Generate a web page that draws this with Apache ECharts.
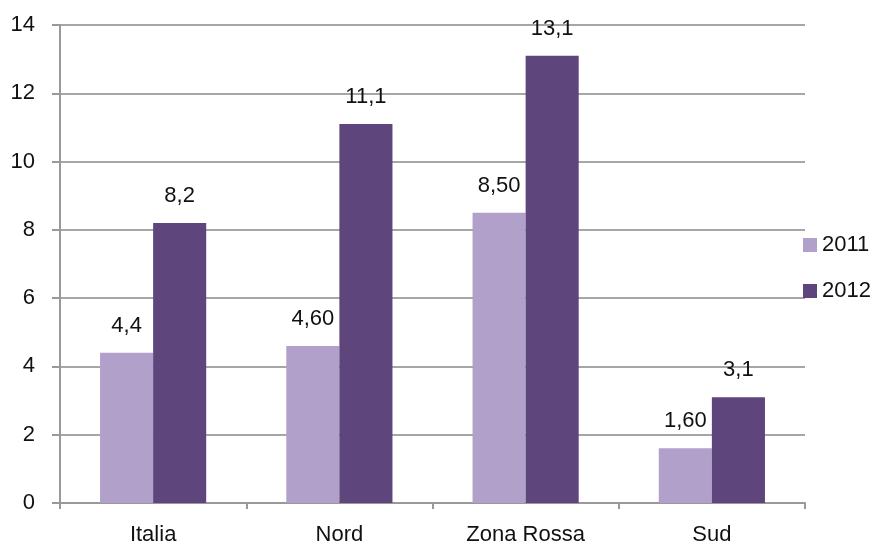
<!DOCTYPE html>
<html>
<head>
<meta charset="utf-8">
<script src="https://cdn.jsdelivr.net/npm/echarts@6/dist/echarts.min.js"></script>
<style>
  html, body { margin: 0; padding: 0; background: #fff; }
  #chart { width: 878px; height: 547px; }
</style>
</head>
<body>
<div id="chart"></div>
<script>
const categories = ['Italia', 'Nord', 'Zona Rossa', 'Sud'];
const values2011 = [4.4, 4.6, 8.5, 1.6];
const values2012 = [8.2, 11.1, 13.1, 3.1];
const labels2011 = ['4,4', '4,60', '8,50', '1,60'];
const labels2012 = ['8,2', '11,1', '13,1', '3,1'];

const font = 'Liberation Sans, Arial, sans-serif';
const chart = echarts.init(document.getElementById('chart'));

const labelStyle = (texts) => ({
  show: true,
  position: 'top',
  distance: 16,
  color: '#111',
  fontSize: 22,
  fontFamily: font,
  formatter: p => texts[p.dataIndex]
});

chart.setOption({
  animation: false,
  grid: { left: 60, right: 73, top: 25, bottom: 44 },
  legend: {
    orient: 'vertical',
    left: 798,
    top: 229,
    itemWidth: 14,
    itemHeight: 14,
    itemGap: 24,
    icon: 'rect',
    textStyle: { fontSize: 22, color: '#111', fontFamily: font },
    data: ['2011', '2012']
  },
  xAxis: {
    type: 'category',
    data: categories,
    axisLine: { lineStyle: { color: '#999', width: 2 } },
    axisTick: { show: true, length: 6, lineStyle: { color: '#999', width: 2 } },
    axisLabel: { fontSize: 22, color: '#111', fontFamily: font, margin: 21 }
  },
  yAxis: {
    type: 'value',
    min: 0,
    max: 14,
    interval: 2,
    axisLine: { show: true, lineStyle: { color: '#999', width: 2 } },
    axisTick: { show: true, length: 8, lineStyle: { color: '#999', width: 2 } },
    axisLabel: { fontSize: 22, color: '#111', fontFamily: font, margin: 25 },
    splitLine: { lineStyle: { color: '#a6a6a6', width: 2 } }
  },
  series: [
    {
      name: '2011',
      type: 'bar',
      data: values2011,
      barGap: '0%',
      barCategoryGap: '43%',
      itemStyle: { color: '#b1a0ca' },
      label: labelStyle(labels2011)
    },
    {
      name: '2012',
      type: 'bar',
      data: values2012,
      itemStyle: { color: '#5e457b' },
      label: labelStyle(labels2012)
    }
  ]
});
</script>
</body>
</html>
